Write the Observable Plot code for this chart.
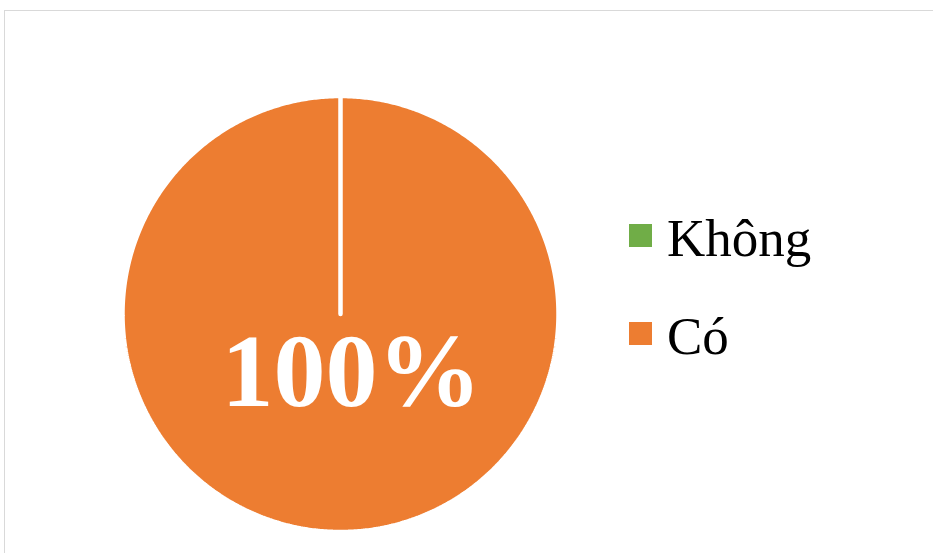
<!DOCTYPE html>
<html>
<head>
<meta charset="utf-8">
<script src="https://cdn.jsdelivr.net/npm/d3@7"></script>
<script src="https://cdn.jsdelivr.net/npm/@observablehq/plot@0.6"></script>
<style>
  html, body { margin: 0; padding: 0; background: #fff; overflow: hidden; }
  #wrap { position: relative; width: 933px; height: 553px; overflow: hidden; }
  #frame { position: absolute; left: 4px; top: 10px; width: 1200px; height: 1200px;
           border-top: 1.5px solid #d9d9d9; border-left: 1.5px solid #d9d9d9; box-sizing: border-box; }
  #chart { position: absolute; left: 0; top: 0; }
  .legend { position: absolute; left: 629px; font-family: "Liberation Serif", "Times New Roman", serif;
            font-size: 53px; color: #000; white-space: nowrap; }
  .legend .item { position: absolute; left: 0; height: 60px; width: 300px; }
  .legend .sw { position: absolute; left: 0; width: 23px; height: 23px; }
  .legend .lab { position: absolute; left: 38px; line-height: 1; }
</style>
</head>
<body>
<div id="wrap">
  <div id="frame"></div>
  <div id="chart"></div>
  <div class="legend" id="legend"></div>
</div>
<script>
const categories = ["Không", "Có"];
const values = [0, 100];
const colors = ["#70AD47", "#ED7D31"];

const total = d3.sum(values);
const arcs = d3.pie().sort(null).startAngle(0).endAngle(2 * Math.PI)(values);

// polygon outline of each slice (centre -> arc -> centre), in unit coordinates
const rows = [];
arcs.forEach((a, i) => {
  const cat = categories[i];
  const span = a.endAngle - a.startAngle;
  const n = Math.max(1, Math.round(span / (2 * Math.PI) * 720));
  rows.push({cat, x: 0, y: 0});
  for (let k = 0; k <= n; k++) {
    const t = a.startAngle + span * k / n;
    rows.push({cat, x: Math.sin(t), y: Math.cos(t)});
  }
  rows.push({cat, x: 0, y: 0});
});

const labels = arcs
  .map((a, i) => ({cat: categories[i], value: values[i]}))
  .filter(d => d.value > 0)
  .map(d => ({...d, text: Math.round(d.value / total * 100) + "%"}));

const cx = 340, cy = 313.5, R = 218;

const chart = Plot.plot({
  width: 933,
  height: 553,
  margin: 0,
  style: {background: "transparent", overflow: "visible"},
  x: {axis: null, domain: [-1, 1], range: [cx - R, cx + R]},
  y: {axis: null, domain: [-1, 1], range: [cy + R, cy - R]},
  color: {domain: categories, range: colors},
  marks: [
    Plot.line(rows, {
      x: "x", y: "y", z: "cat", fill: "cat",
      stroke: "white", strokeWidth: 4.5, strokeLinejoin: "miter", curve: "linear"
    }),
    Plot.text(labels, {
      x: () => 0, y: () => 0, text: "text",
      dx: 11, dy: 59,
      fill: "white", fontSize: 104, fontWeight: "bold",
      fontFamily: "'Liberation Serif', 'Times New Roman', serif",
      textAnchor: "middle", lineAnchor: "middle"
    })
  ]
});
document.getElementById("chart").appendChild(chart);

// legend
const legend = document.getElementById("legend");
const legendTops = [224, 322];
categories.forEach((c, i) => {
  const item = document.createElement("div");
  item.className = "item";
  item.style.top = legendTops[i] + "px";
  const sw = document.createElement("div");
  sw.className = "sw";
  sw.style.background = colors[i];
  const lab = document.createElement("div");
  lab.className = "lab";
  lab.textContent = c;
  lab.style.top = "-12px";
  item.appendChild(sw);
  item.appendChild(lab);
  legend.appendChild(item);
});
legend.style.top = "0px";
</script>
</body>
</html>
